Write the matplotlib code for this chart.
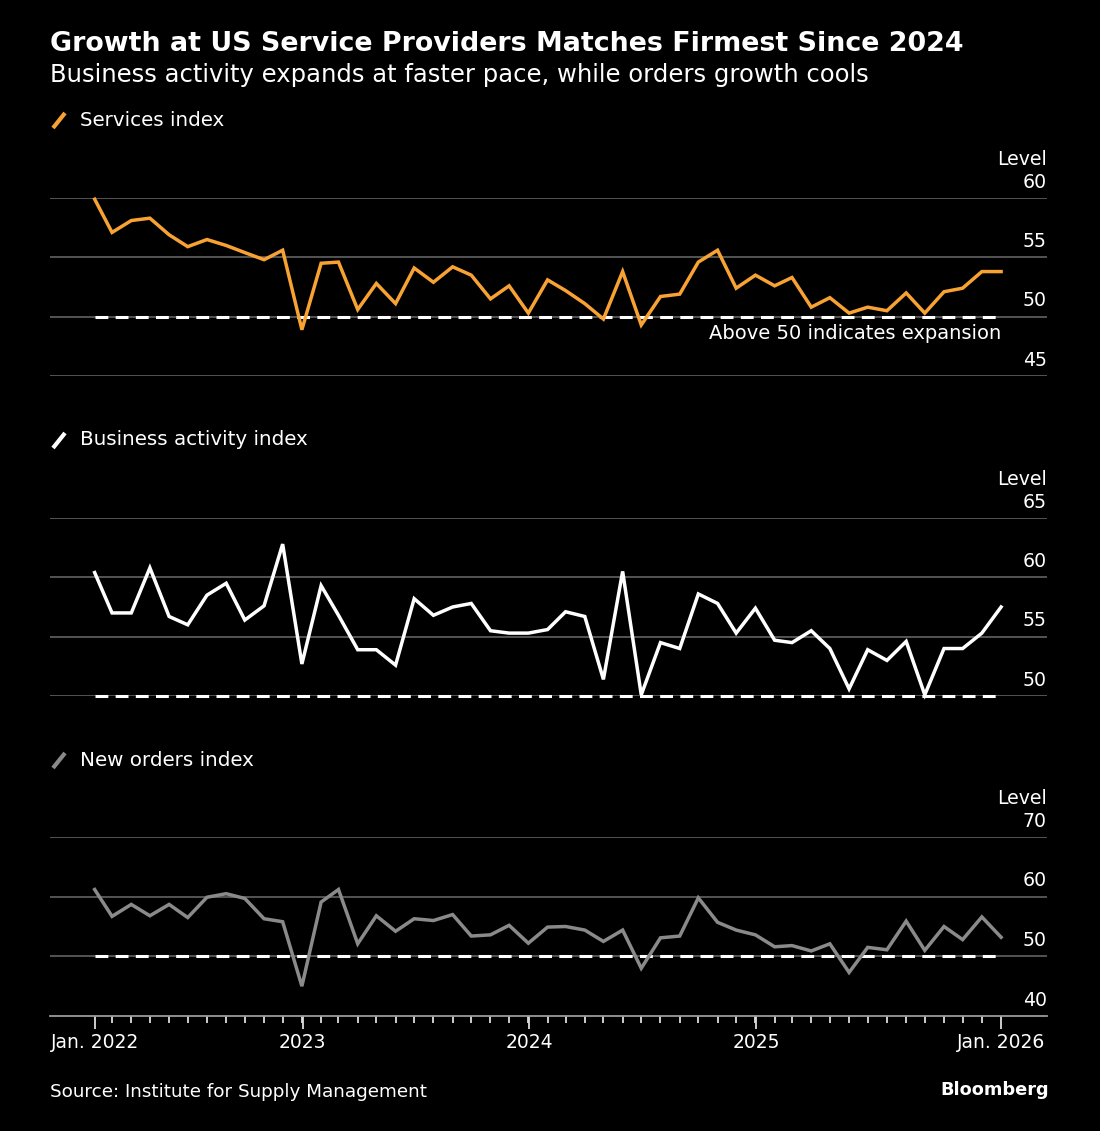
import matplotlib
matplotlib.use("Agg")
import matplotlib.pyplot as plt
from matplotlib.lines import Line2D
import pandas as pd

# monthly readings, Jan 2022 .. Jan 2026 (month-end dates)
dates = pd.date_range("2022-01-31", periods=49, freq="ME")

services = [59.9, 57.1, 58.1, 58.3, 56.9, 55.9, 56.5, 56.0, 55.4, 54.8, 55.6, 48.9,
            54.5, 54.6, 50.6, 52.8, 51.1, 54.1, 52.9, 54.2, 53.5, 51.5, 52.6, 50.3,
            53.1, 52.2, 51.1, 49.8, 53.8, 49.3, 51.7, 51.9, 54.6, 55.6, 52.4, 53.5,
            52.6, 53.3, 50.8, 51.6, 50.3, 50.8, 50.5, 52.0, 50.3, 52.1, 52.4, 53.8,
            53.8]
business = [60.4, 57.0, 57.0, 60.8, 56.7, 56.0, 58.5, 59.5, 56.4, 57.6, 62.8, 52.7,
            59.3, 56.8, 53.9, 53.9, 52.6, 58.2, 56.8, 57.5, 57.8, 55.5, 55.3, 55.3,
            55.6, 57.1, 56.7, 51.4, 60.5, 50.1, 54.5, 54.0, 58.6, 57.8, 55.3, 57.4,
            54.7, 54.5, 55.5, 54.0, 50.6, 53.9, 53.0, 54.6, 50.1, 54.0, 54.0, 55.3,
            57.5]
new_orders = [61.2, 56.7, 58.7, 56.8, 58.7, 56.5, 59.9, 60.5, 59.7, 56.3, 55.8, 45.0,
              59.1, 61.2, 52.1, 56.8, 54.2, 56.3, 56.0, 57.0, 53.4, 53.6, 55.2, 52.2,
              54.9, 55.0, 54.4, 52.5, 54.4, 48.0, 53.1, 53.4, 59.8, 55.7, 54.4, 53.6,
              51.6, 51.8, 50.9, 52.1, 47.3, 51.5, 51.1, 55.9, 51.0, 55.0, 52.8, 56.6,
              53.2]

panel_names = ["Services index", "Business activity index", "New orders index"]
panel_colors = ["#f8a233", "#ffffff", "#8a8a8a"]
panel_ticks = [[45, 50, 55, 60], [50, 55, 60, 65], [40, 50, 60, 70]]

W, H = 1100, 1131
fig = plt.figure(figsize=(11, 11.31), dpi=100, facecolor="black")
plt.rcParams["font.family"] = ["DejaVu Sans"]

def fy(px):
    return 1 - px / H

fig.text(50 / W, fy(44), "Growth at US Service Providers Matches Firmest Since 2024",
         color="white", fontsize=19.4, fontweight="bold", va="center")
fig.text(50 / W, fy(75), "Business activity expands at faster pace, while orders growth cools",
         color="white", fontsize=17.5, va="center")

# top, bottom of each plot area in pixels, and legend row
boxes = [(198, 376, 120), (518, 696, 440), (837, 1016, 760)]
x_left = dates[0] - pd.Timedelta(days=72)
x_right = dates[-1] + pd.Timedelta(days=74)
lab_size = 13.6

axes = []
for i, (series, name, col, ticks) in enumerate(zip([services, business, new_orders],
                                                   panel_names, panel_colors, panel_ticks)):
    top, bot, leg_y = boxes[i]
    ax = fig.add_axes([50 / W, fy(bot), 997 / W, (bot - top) / H])
    ax.set_facecolor("black")
    ax.set_xlim(x_left, x_right)
    ax.set_ylim(ticks[0], ticks[-1])
    for s in ax.spines.values():
        s.set_visible(False)
    for t in ticks:
        if not (i == 2 and t == ticks[0]):
            ax.axhline(t, color="#5a5a5a", lw=1.3, zorder=1)
        ax.annotate(str(t), xy=(1.0, t), xycoords=ax.get_yaxis_transform(),
                    xytext=(0, 7.5), textcoords="offset points", ha="right",
                    va="baseline", color="white", fontsize=lab_size)
    ax.annotate("Level", xy=(1.0, ticks[-1]), xycoords=ax.get_yaxis_transform(),
                xytext=(0, 24), textcoords="offset points", ha="right",
                va="baseline", color="white", fontsize=lab_size)
    ax.plot([dates[0], dates[-1]], [50, 50], color="white", lw=2.2,
            dashes=(4.2, 2.4), zorder=2, clip_on=False)
    ax.plot(dates, series, color=col, lw=2.5, zorder=3, clip_on=False,
            solid_joinstyle="miter")
    ax.set_yticks([])

    # legend row: slash glyph and label
    fig.add_artist(Line2D([53 / W, 65 / W], [fy(leg_y + 8), fy(leg_y - 7)],
                          color=col, lw=3, solid_capstyle="butt"))
    fig.text(80 / W, fy(leg_y), name, color="white", fontsize=14.3, va="center")
    axes.append(ax)

axes[0].annotate("Above 50 indicates expansion", xy=(dates[-1], 50),
                 xytext=(0, -5), textcoords="offset points", ha="right", va="top",
                 color="white", fontsize=14.0)

for ax in axes[:2]:
    ax.set_xticks([])

ax = axes[2]
ax.spines["bottom"].set_visible(True)
ax.spines["bottom"].set_color("#9a9a9a")
ax.spines["bottom"].set_linewidth(1.3)
major = [dates[0], pd.Timestamp("2023-01-01"), pd.Timestamp("2024-01-01"),
         pd.Timestamp("2025-01-01"), dates[-1]]
ax.set_xticks(major)
ax.set_xticklabels(["Jan. 2022", "2023", "2024", "2025", "Jan. 2026"])
ax.set_xticks(list(dates[1:-1]), minor=True)
ax.tick_params(axis="x", which="major", length=9, width=1.3, color="#dddddd",
               labelcolor="white", labelsize=13.5, pad=3)
ax.tick_params(axis="x", which="minor", length=5, width=1.3, color="#dddddd")

fig.text(50 / W, fy(1092), "Source: Institute for Supply Management", color="white",
         fontsize=13.2, va="center")
fig.text(1049 / W, fy(1090), "Bloomberg", color="white", fontsize=12.8,
         fontweight="bold", va="center", ha="right")

fig.savefig("out.png", dpi=100, facecolor="black")
